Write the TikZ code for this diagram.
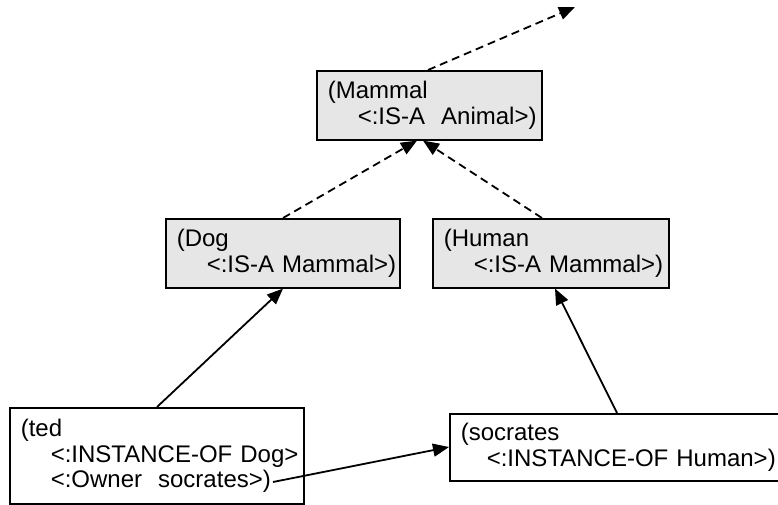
\documentclass[tikz,border=0pt]{standalone}
\usepackage{fontspec}
\setmainfont{Liberation Sans}
\usetikzlibrary{arrows.meta,calc}
\definecolor{framefill}{HTML}{E6E6E6}
\tikzset{
  frame/.style={draw=black, line width=1.6pt, anchor=north west, align=left,
    inner xsep=11pt, inner ysep=0pt,
    font=\fontsize{24}{25.5}\selectfont},
  classframe/.style={frame, fill=framefill},
  instframe/.style={frame, fill=white},
  isa/.style={line width=1.8pt, dash pattern=on 8pt off 5pt,
    -{Triangle[length=16pt,width=13pt]}},
  link/.style={line width=1.8pt, -{Triangle[length=16pt,width=13pt]}}
}
% one unbreakable line of a frame, plain or indented
\newcommand{\fl}[1]{\mbox{#1}}
\newcommand{\il}[2][30pt]{\mbox{\hspace*{#1}#2}}
\begin{document}
\begin{tikzpicture}[x=1pt,y=-1pt]
\useasboundingbox (0,0) rectangle (778,505);

% frames
\node[classframe, minimum width=225pt, minimum height=69pt, text width=203pt]
  (mammal) at (316,70) {\fl{(Mammal}\\\il{<:IS-A\ \ Animal>)}};
\node[classframe, minimum width=234pt, minimum height=69pt, text width=212pt]
  (dog) at (165,218) {\fl{(Dog}\\\il{<:IS-A Mammal>)}};
\node[classframe, minimum width=236pt, minimum height=69pt, text width=214pt]
  (human) at (432,218) {\fl{(Human}\\\il{<:IS-A Mammal>)}};
\node[instframe, minimum width=294pt, minimum height=96pt, text width=272pt]
  (ted) at (9,407) {\fl{(ted}\\\il{<:INSTANCE-OF Dog>}\\\il{<:Owner\ \ socrates>)}};
\node[instframe, minimum width=340pt, minimum height=67pt, text width=318pt, inner xsep=10pt]
  (socrates) at (449,413) {\fl{(socrates}\\\il[26pt]{<:INSTANCE-OF Human>)}};

% free ends
\coordinate (animal) at (575,7);
\coordinate (owner) at ($(ted.north west)+(264,75)$);

% IS-A links
\draw[isa] ($(mammal.north west)+(112,0)$) -- (animal);
\draw[isa] ($(dog.north west)+(118,0)$) -- ($(mammal.south west)+(101,0)$);
\draw[isa] ($(human.north west)+(110,0)$) -- ($(mammal.south west)+(107,0)$);

% instance links
\draw[link] ($(ted.north west)+(148,0)$) -- ($(dog.south west)+(118,0)$);
\draw[link] ($(socrates.north west)+(168,0)$) -- ($(human.south west)+(123,0)$);
\draw[link] (owner) -- ($(socrates.north west)+(0,34)$);
\end{tikzpicture}
\end{document}
